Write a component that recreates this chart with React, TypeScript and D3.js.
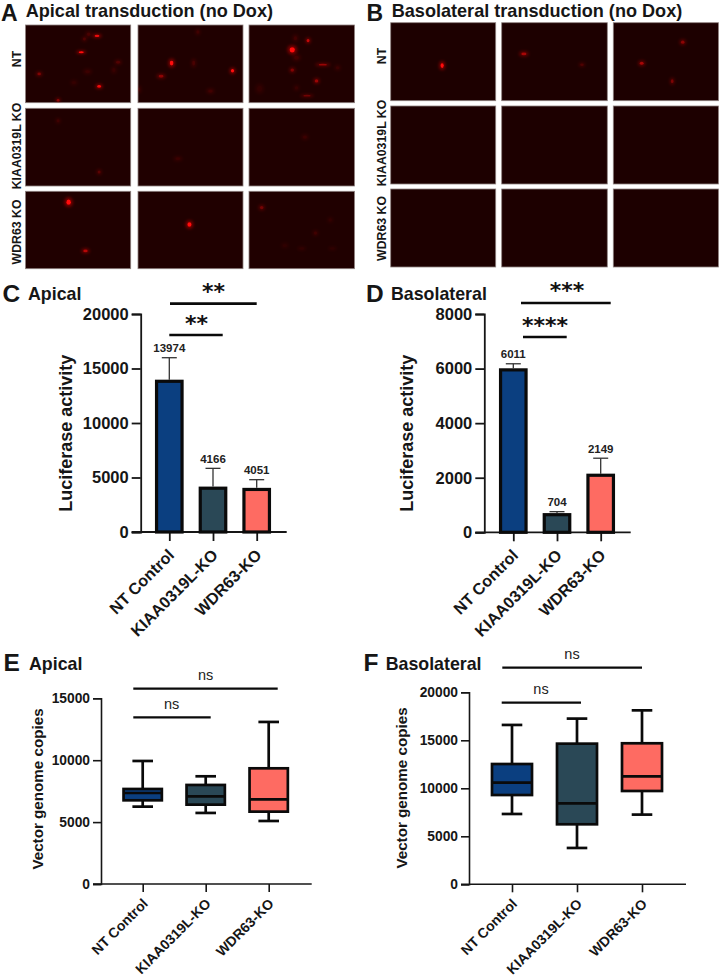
import React, { useEffect, useRef } from "react";
import * as d3 from "d3";

const FONT = "'Liberation Sans', Arial, sans-serif";
const INK = "#161616";
const barCategories = ["NT Control", "KIAA0319L-KO", "WDR63-KO"];
const boxCategories = ["NT Control", "KIAA0319L-KO", "WDR63-KO"];
const groupColors = ["#0b3f80", "#2a4856", "#fe6b62"];
const rowLabels = ["NT", "KIAA0319L KO", "WDR63 KO"];

// [x fraction, y fraction, x radius, y radius, intensity]
type Spot = [number, number, number, number, number];
const apicalSpots: Spot[][][] = [
  [
    [[.68,.14,3,1.3,.95],[.53,.35,3.2,1.2,1],[.70,.79,2.4,1.7,.95],[.13,.63,2.2,1.7,.55],[.31,.97,1.8,1.8,.6],[.88,.48,2.5,1.8,.35],[.60,.12,2.2,2.2,.3],[.56,.18,1.8,1.8,.35],[.59,.60,3,2,.22],[.84,.58,2,2.5,.2],[.46,.74,2.5,2,.18]],
    [[.32,.49,2.2,3,1],[.90,.59,2,2.2,1],[.22,.66,3,1.8,.6],[.53,.49,1.8,3,.3],[.57,.09,1.8,2.2,.25],[.69,.85,2.8,2,.25],[.01,.83,1.5,2.5,.25]],
    [[.41,.32,3.2,3.2,1],[.56,.20,1.8,2,.8],[.70,.51,5,1.2,.65],[.41,.58,2.2,2,.55],[.64,.72,2.2,2,.65],[.55,.91,4.5,1.1,.5],[.44,.17,2,2.5,.25],[.45,.42,3,2.5,.25],[.84,.55,2.2,2,.22],[.10,.82,3,3.5,.16],[.45,.81,2,2,.2]],
  ],
  [
    [[.70,.82,1.8,2,.4],[.31,.16,1.8,2,.25]],
    [[.38,.65,3,1.8,.22]],
    [[.53,.37,2.5,2,.22]],
  ],
  [
    [[.41,.14,2.8,3.2,1],[.57,.77,2.8,1.8,.75]],
    [[.49,.43,2.5,2.8,1]],
    [[.12,.21,2.2,2,.5],[.63,.54,2,2,.25],[.77,.37,2,2,.16],[.50,.74,3,1.6,.16],[.34,.70,2.5,2,.14],[.79,.74,3,1.6,.14]],
  ],
];
const basolateralSpots: Spot[][][] = [
  [
    [[.49,.55,2,3,1]],
    [[.21,.40,3.2,1.8,.7],[.76,.54,2.2,1.6,.35]],
    [[.66,.25,2.2,2,.6],[.27,.52,2.4,2,.7],[.56,.75,1.6,2.4,.55]],
  ],
  [[], [], []],
  [[], [], []],
];

const apicalLuciferase = [13974, 4166, 4051];
const apicalLuciferaseTop = [15990, 5840, 4800];
const basolateralLuciferase = [6011, 704, 2149];
const basolateralLuciferaseTop = [6176, 756, 2715];

// [low, q1, median, q3, high]
const apicalCopies = [
  [6250, 6760, 7350, 7675, 9937],
  [5740, 6410, 7080, 8000, 8700],
  [5090, 5845, 6840, 9345, 13090],
];
const basolateralCopies = [
  [7325, 9300, 10590, 12530, 16600],
  [3785, 6250, 8440, 14650, 17260],
  [7260, 9720, 11250, 14690, 18120],
];

type Sel = d3.Selection<any, unknown, null, undefined>;

function label(g: Sel, s: string, x: number, y: number, size: number, opts: any = {}) {
  const t = g.append("text").text(s)
    .attr("font-family", opts.family ?? FONT)
    .attr("font-weight", opts.weight ?? "bold")
    .attr("font-size", size)
    .attr("fill", opts.fill ?? INK)
    .attr("text-anchor", opts.anchor ?? "start");
  if (opts.rotate !== undefined) t.attr("transform", `translate(${x},${y}) rotate(${opts.rotate})`);
  else t.attr("x", x).attr("y", y);
  return t;
}

function micrographs(g: Sel, xs: number[][], ys: number[][], spots: Spot[][][], bg: string) {
  ys.forEach((yr, r) => xs.forEach((xr, c) => {
    const sx = d3.scaleLinear().domain([0, 1]).range(xr);
    const sy = d3.scaleLinear().domain([0, 1]).range(yr);
    g.append("rect").attr("x", xr[0]).attr("y", yr[0]).attr("width", xr[1] - xr[0]).attr("height", yr[1] - yr[0])
      .attr("fill", bg).attr("stroke", "#8f8280").attr("stroke-width", 0.8);
    const clipId = `c${Math.round(xr[0])}-${Math.round(yr[0])}`;
    g.append("clipPath").attr("id", clipId).append("rect").attr("x", xr[0]).attr("y", yr[0]).attr("width", xr[1] - xr[0]).attr("height", yr[1] - yr[0]);
    const layer = g.append("g").attr("clip-path", `url(#${clipId})`);
    spots[r][c].forEach(([fx, fy, rx, ry, k]) => {
      layer.append("ellipse").attr("cx", sx(fx)).attr("cy", sy(fy)).attr("rx", rx * 1.55).attr("ry", ry * 1.55)
        .attr("fill", "#c80000").attr("opacity", k * 0.5).attr("filter", "url(#blurWide)");
      layer.append("ellipse").attr("cx", sx(fx)).attr("cy", sy(fy)).attr("rx", rx * 0.8).attr("ry", ry * 0.8)
        .attr("fill", "#ff0a0a").attr("opacity", k * k).attr("filter", "url(#blurNarrow)");
    });
  }));
}

interface AxOpts {
  axisX: number; top: number; zero: number; endX: number; first: number; last: number;
  max: number; step: number; tickSize: number; tickFont: number; catFont: number; catDrop: number;
  cats: string[];
  ylabel: string; ylabelX: number; ylabelY: number; ylabelFont: number; strokeW: number;
}

function axes(g: Sel, o: AxOpts) {
  const y = d3.scaleLinear().domain([0, o.max]).range([o.zero, o.top]);
  const x = d3.scalePoint<string>().domain(o.cats).range([o.first, o.last]);
  const left = d3.axisLeft(y).tickValues(d3.range(0, o.max + 1, o.step)).tickSize(o.tickSize).tickPadding(3).tickFormat(d3.format("d") as any);
  const ga = g.append("g").attr("transform", `translate(${o.axisX},0)`).call(left);
  ga.selectAll("text").attr("font-family", FONT).attr("font-weight", "bold").attr("font-size", o.tickFont).attr("fill", INK);
  ga.selectAll("line,path").attr("stroke", INK).attr("stroke-width", o.strokeW);
  const bottom = d3.axisBottom(x).tickSize(o.tickSize).tickSizeOuter(0).tickFormat(() => "");
  const gb = g.append("g").attr("transform", `translate(0,${o.zero})`).call(bottom);
  gb.select("path").remove();
  gb.selectAll("line").attr("stroke", INK).attr("stroke-width", o.strokeW);
  g.append("line").attr("x1", o.axisX - o.tickSize).attr("x2", o.endX).attr("y1", o.zero).attr("y2", o.zero)
    .attr("stroke", INK).attr("stroke-width", o.strokeW);
  o.cats.forEach((c) => {
    label(g, c, x(c)! + 6, o.zero + o.catDrop, o.catFont, { anchor: "end", rotate: -45 });
  });
  label(g, o.ylabel, o.ylabelX, o.ylabelY, o.ylabelFont, { anchor: "middle", rotate: -90 });
  return { x, y };
}

function bars(g: Sel, o: AxOpts, vals: number[], tops: number[]) {
  const { x, y } = axes(g, o);
  const sw = 3.2;
  const w = 28.7 - sw;
  o.cats.forEach((c, i) => {
    const cx = x(c)!;
    g.append("line").attr("x1", cx).attr("x2", cx).attr("y1", y(vals[i])).attr("y2", y(tops[i])).attr("stroke", "#333").attr("stroke-width", 1.3);
    g.append("line").attr("x1", cx - 7.5).attr("x2", cx + 7.5).attr("y1", y(tops[i])).attr("y2", y(tops[i])).attr("stroke", "#333").attr("stroke-width", 1.3);
    g.append("rect").attr("x", cx - w / 2).attr("y", y(vals[i]) + sw / 2).attr("width", w).attr("height", o.zero - y(vals[i]) - sw / 2)
      .attr("fill", groupColors[i]).attr("stroke", "#0a0a0a").attr("stroke-width", sw);
    label(g, String(vals[i]), cx, y(tops[i]) - 5.5, 11.5, { anchor: "middle", fill: "#222" });
  });
}

function boxes(g: Sel, o: AxOpts, data: number[][], w: number) {
  const { x, y } = axes(g, o);
  const sw = 2.7;
  o.cats.forEach((c, i) => {
    const cx = x(c)!;
    const [lo, q1, med, q3, hi] = data[i];
    g.append("line").attr("x1", cx).attr("x2", cx).attr("y1", y(lo)).attr("y2", y(hi)).attr("stroke", "#0a0a0a").attr("stroke-width", sw);
    [lo, hi].forEach((v) => g.append("line").attr("x1", cx - 10.3).attr("x2", cx + 10.3).attr("y1", y(v)).attr("y2", y(v)).attr("stroke", "#0a0a0a").attr("stroke-width", sw));
    g.append("rect").attr("x", cx - w / 2).attr("y", y(q3)).attr("width", w).attr("height", y(q1) - y(q3))
      .attr("fill", groupColors[i]).attr("stroke", "#0a0a0a").attr("stroke-width", sw);
    g.append("line").attr("x1", cx - w / 2).attr("x2", cx + w / 2).attr("y1", y(med)).attr("y2", y(med)).attr("stroke", "#0a0a0a").attr("stroke-width", sw);
  });
}

function sig(g: Sel, x1: number, x2: number, y: number, text: string, tx: number, ty: number, sw: number) {
  g.append("line").attr("x1", x1).attr("x2", x2).attr("y1", y).attr("y2", y).attr("stroke", "#0a0a0a").attr("stroke-width", sw);
  if (text === "ns") label(g, text, tx, ty, 14.5, { anchor: "middle", weight: "normal", fill: "#222" });
  else label(g, text, tx, ty, 22, { anchor: "middle", family: "'DejaVu Sans'", fill: "#111" });
}

export default function App() {
  const ref = useRef<SVGSVGElement>(null);
  useEffect(() => {
    const svg = d3.select(ref.current!) as unknown as Sel;
    svg.selectAll("*").remove();
    const defs = svg.append("defs");
    defs.append("filter").attr("id", "blurWide").attr("x", "-150%").attr("y", "-150%").attr("width", "400%").attr("height", "400%")
      .append("feGaussianBlur").attr("stdDeviation", 1.5);
    defs.append("filter").attr("id", "blurNarrow").attr("x", "-150%").attr("y", "-150%").attr("width", "400%").attr("height", "400%")
      .append("feGaussianBlur").attr("stdDeviation", 0.7);
    const g = svg.append("g");

    // Panel headings
    label(g, "A", 1, 21, 23);
    label(g, "Apical transduction (no Dox)", 25.7, 16.5, 18.1);
    label(g, "B", 366.5, 21, 23);
    label(g, "Basolateral transduction (no Dox)", 391.7, 16.5, 18.1);
    label(g, "C", 2.5, 302, 24.5);
    label(g, "Apical", 28, 300, 17.8);
    label(g, "D", 366, 302, 24.5);
    label(g, "Basolateral", 391, 300, 17.8);
    label(g, "E", 3.5, 670.7, 24.5);
    label(g, "Apical", 29, 670, 17.8);
    label(g, "F", 363.5, 670.7, 24.5);
    label(g, "Basolateral", 385.7, 670, 17.8);

    // Micrographs
    micrographs(g, [[25.5, 130.7], [138, 243], [249, 354.5]], [[25, 102.7], [108.3, 186], [191.3, 268.7]], apicalSpots, "#200000");
    micrographs(g, [[390.7, 495.7], [501.7, 607.3], [613.3, 718.5]], [[22.7, 100.7], [106, 184], [189, 267]], basolateralSpots, "#1d0000");
    [59, 146, 232].forEach((cy, i) => label(g, rowLabels[i], 21, cy, 12.3, { anchor: "middle", rotate: -90 }));
    [56, 143, 228.5].forEach((cy, i) => label(g, rowLabels[i], 385.7, cy, 12.3, { anchor: "middle", rotate: -90 }));

    // C
    bars(g, {
      axisX: 140.7, top: 314, zero: 532, endX: 286.7, first: 169.3, last: 256.7, max: 20000, step: 5000,
      tickSize: 9, tickFont: 16.5, catFont: 16.2, catDrop: 24, cats: barCategories,
      ylabel: "Luciferase activity", ylabelX: 71.5, ylabelY: 433.3, ylabelFont: 18, strokeW: 1.8,
    }, apicalLuciferase, apicalLuciferaseTop);
    sig(g, 170, 256.7, 303.7, "**", 213.5, 299, 2.7);
    sig(g, 169.3, 222.7, 335, "**", 196.5, 331, 2.7);

    // D
    bars(g, {
      axisX: 484.3, top: 314, zero: 532.3, endX: 630.7, first: 513.3, last: 600.7, max: 8000, step: 2000,
      tickSize: 9, tickFont: 16.5, catFont: 16.2, catDrop: 24, cats: barCategories,
      ylabel: "Luciferase activity", ylabelX: 413, ylabelY: 433.3, ylabelFont: 18, strokeW: 1.8,
    }, basolateralLuciferase, basolateralLuciferaseTop);
    sig(g, 521, 610.7, 303, "***", 567, 298, 2.7);
    sig(g, 523, 566.7, 337, "****", 545, 333, 2.7);

    // E
    boxes(g, {
      axisX: 101, top: 698.3, zero: 884, endX: 311.7, first: 142.7, last: 268.7, max: 15000, step: 5000,
      tickSize: 8, tickFont: 13.8, catFont: 14, catDrop: 20.5, cats: boxCategories,
      ylabel: "Vector genome copies", ylabelX: 42.7, ylabelY: 789, ylabelFont: 15.2, strokeW: 1.6,
    }, apicalCopies, 38.3);
    sig(g, 133.3, 277.7, 688.7, "ns", 205.7, 680, 2.2);
    sig(g, 133.3, 210.7, 717.3, "ns", 171.7, 709, 2.2);

    // F
    boxes(g, {
      axisX: 469, top: 692.3, zero: 884.3, endX: 686, first: 512, last: 642, max: 20000, step: 5000,
      tickSize: 8, tickFont: 13.8, catFont: 14, catDrop: 20.5, cats: boxCategories,
      ylabel: "Vector genome copies", ylabelX: 406.7, ylabelY: 788, ylabelFont: 15.2, strokeW: 1.6,
    }, basolateralCopies, 40);
    sig(g, 502.3, 642, 667.7, "ns", 572, 659, 2.2);
    sig(g, 501.7, 581, 702.7, "ns", 541, 693.7, 2.2);
  }, []);
  return (
    <svg ref={ref} width={719} height={978} viewBox="0 0 719 978"
      style={{ position: "absolute", left: 0, top: 0, display: "block", background: "#fff" }} />
  );
}
